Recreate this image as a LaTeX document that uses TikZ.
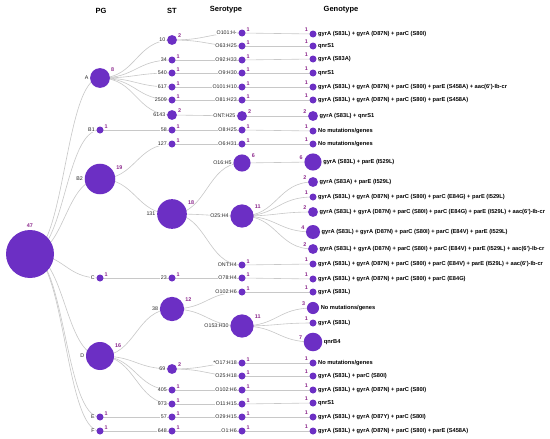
\documentclass[tikz,border=0pt]{standalone}
\usepackage{fontspec}
\setmainfont{Liberation Sans}
\usetikzlibrary{calc}
\pgfdeclarelayer{bg}
\pgfsetlayers{bg,main}
\definecolor{nodepurple}{RGB}{108,47,196}
\definecolor{cntpurple}{RGB}{140,40,140}
\definecolor{edgegray}{RGB}{200,200,200}
\tikzset{
  dot/.style={circle, fill=nodepurple, inner sep=0pt, outer sep=0pt},
  lbl/.style={font=\fontsize{5.3}{6}\selectfont, text=black!85, inner sep=0.4pt, fill=white},
  glbl/.style={font=\fontsize{5.7}{6.5}\selectfont\bfseries, text=black, inner sep=0pt},
  cnt/.style={font=\fontsize{5.4}{6}\selectfont\bfseries, text=cntpurple, inner sep=0pt},
  hdr/.style={font=\fontsize{7.5}{9}\selectfont\bfseries, inner sep=0pt},
  edgeline/.style={draw=edgegray, line width=0.6pt},
}
\newcommand\LeftNode[5]{%
  \pgfmathsetmacro\rr{3.5*sqrt(#4)}%
  \node[dot, minimum size=2*\rr pt] (#1) at (#2,#3) {};
  \node[lbl, anchor=east] (#1-l) at ([xshift=-1.2pt]#1.west) {#5};
  \node[cnt, anchor=west] (#1-c) at ([xshift=1pt, yshift=0.7*\rr pt+1pt]#1.east) {#4};
}
\newcommand\GenNode[4]{%
  \pgfmathsetmacro\rr{3.5*sqrt(#3)}%
  \node[dot, minimum size=2*\rr pt] (#1) at (313,#2) {};
  \node[glbl, anchor=west] (#1-l) at ([xshift=1.5pt]#1.east) {#4};
  \node[cnt, anchor=east] (#1-c) at ([xshift=-1.5pt, yshift=4pt]#1.west) {#3};
}
\newcommand\lnk[2]{\path[edgeline] let \p1=(#1.center), \p2=(#2.center) in (\p1) .. controls ({(\x1+\x2)/2},\y1) and ({(\x1+\x2)/2},\y2) .. (\p2);}
\begin{document}
\begin{tikzpicture}[x=1pt,y=-1pt]
\useasboundingbox (0,0) rectangle (550,439);
% headers
\node[hdr] (hPG) at (101,11) {PG};
\node[hdr] (hST) at (172,11) {ST};
\node[hdr] (hSe) at (226,10) {Serotype};
\node[hdr] (hGe) at (341,10) {Genotype};
% root
\node[dot, minimum size=48pt] (root) at (30,254) {};
\node[cnt, anchor=south] (root-c) at ([yshift=2.5pt]root.north) {47};
% PG
\LeftNode{A}{100}{78}{8}{A}
\LeftNode{B1}{100}{130}{1}{B1}
\LeftNode{B2}{100}{179}{19}{B2}
\LeftNode{C}{100}{278}{1}{C}
\LeftNode{D}{100}{356}{16}{D}
\LeftNode{E}{100}{417}{1}{E}
\LeftNode{F}{100}{431}{1}{F}
% ST
\LeftNode{s10}{172}{40}{2}{10}
\LeftNode{s34}{172}{60}{1}{34}
\LeftNode{s540}{172}{73}{1}{540}
\LeftNode{s617}{172}{87}{1}{617}
\LeftNode{s2509}{172}{100}{1}{2509}
\LeftNode{s6143}{172}{115}{2}{6143}
\LeftNode{s58}{172}{130}{1}{58}
\LeftNode{s127}{172}{144}{1}{127}
\LeftNode{s131}{172}{214}{18}{131}
\LeftNode{s23}{172}{278}{1}{23}
\LeftNode{s38}{172}{309}{12}{38}
\LeftNode{s69}{172}{369}{2}{69}
\LeftNode{s405}{172}{390}{1}{405}
\LeftNode{s973}{172}{404}{1}{973}
\LeftNode{s57}{172}{417}{1}{57}
\LeftNode{s648}{172}{431}{1}{648}
% Serotype
\LeftNode{t1}{242}{33}{1}{O101:H-}
\LeftNode{t2}{242}{46}{1}{O63:H25}
\LeftNode{t3}{242}{60}{1}{O92:H33}
\LeftNode{t4}{242}{73}{1}{O9:H30}
\LeftNode{t5}{242}{87}{1}{O101:H10}
\LeftNode{t6}{242}{100}{1}{O81:H23}
\LeftNode{t7}{242}{116}{2}{ONT:H25}
\LeftNode{t8}{242}{130}{1}{O8:H25}
\LeftNode{t9}{242}{144}{1}{O6:H31}
\LeftNode{t10}{242}{163}{6}{O16:H5}
\LeftNode{t11}{242}{216}{11}{O25:H4}
\LeftNode{t12}{242}{265}{1}{ONT:H4}
\LeftNode{t13}{242}{278}{1}{O78:H4}
\LeftNode{t14}{242}{292}{1}{O102:H6}
\LeftNode{t15}{242}{326}{11}{O153:H30}
\LeftNode{t16}{242}{363}{1}{*O17:H18}
\LeftNode{t17}{242}{376}{1}{O25:H18}
\LeftNode{t18}{242}{390}{1}{O102:H6}
\LeftNode{t19}{242}{404}{1}{O11:H15}
\LeftNode{t20}{242}{417}{1}{O29:H15}
\LeftNode{t21}{242}{431}{1}{O1:H6}
% Genotype
\GenNode{g1}{34}{1}{gyrA (S83L) + gyrA (D87N) + parC (S80I)}
\GenNode{g2}{46}{1}{qnrS1}
\GenNode{g3}{59}{1}{gyrA (S83A)}
\GenNode{g4}{73}{1}{qnrS1}
\GenNode{g5}{87}{1}{gyrA (S83L) + gyrA (D87N) + parC (S80I) + parE (S458A) + aac(6')-Ib-cr}
\GenNode{g6}{100}{1}{gyrA (S83L) + gyrA (D87N) + parC (S80I) + parE (S458A)}
\GenNode{g7}{116}{2}{gyrA (S83L) + qnrS1}
\GenNode{g8}{131}{1}{No mutations/genes}
\GenNode{g9}{144}{1}{No mutations/genes}
\GenNode{g10}{162}{6}{gyrA (S83L) + parE (I529L)}
\GenNode{g11}{182}{2}{gyrA (S83A) + parE (I529L)}
\GenNode{g12}{197}{1}{gyrA (S83L) + gyrA (D87N) + parC (S80I) + parC (E84G) + parE (I529L)}
\GenNode{g13}{212}{2}{gyrA (S83L) + gyrA (D87N) + parC (S80I) + parC (E84G) + parE (I529L) + aac(6')-Ib-cr}
\GenNode{g14}{232}{4}{gyrA (S83L) + gyrA (D87N) + parC (S80I) + parC (E84V) + parE (I529L)}
\GenNode{g15}{249}{2}{gyrA (S83L) + gyrA (D87N) + parC (S80I) + parC (E84V) + parE (I529L) + aac(6')-Ib-cr}
\GenNode{g16}{264}{1}{gyrA (S83L) + gyrA (D87N) + parC (S80I) + parC (E84V) + parE (I529L) + aac(6')-Ib-cr}
\GenNode{g17}{279}{1}{gyrA (S83L) + gyrA (D87N) + parC (S80I) + parC (E84G)}
\GenNode{g18}{292}{1}{gyrA (S83L)}
\GenNode{g19}{308}{3}{No mutations/genes}
\GenNode{g20}{323}{1}{gyrA (S83L)}
\GenNode{g21}{342}{7}{qnrB4}
\GenNode{g22}{363}{1}{No mutations/genes}
\GenNode{g23}{376}{1}{gyrA (S83L) + parC (S80I)}
\GenNode{g24}{390}{1}{gyrA (S83L) + gyrA (D87N) + parC (S80I)}
\GenNode{g25}{403}{1}{qnrS1}
\GenNode{g26}{417}{1}{gyrA (S83L) + gyrA (D87Y) + parC (S80I)}
\GenNode{g27}{431}{1}{gyrA (S83L) + gyrA (D87N) + parC (S80I) + parE (S458A)}
\begin{pgfonlayer}{bg}
\fill[white] (0,0) rectangle (550,439);
\foreach \c in {A,B1,B2,C,D,E,F} {\lnk{root}{\c}}
\foreach \c in {s10,s34,s540,s617,s2509,s6143} {\lnk{A}{\c}}
\lnk{B1}{s58}
\lnk{B2}{s127}\lnk{B2}{s131}
\lnk{C}{s23}
\foreach \c in {s38,s69,s405,s973} {\lnk{D}{\c}}
\lnk{E}{s57}
\lnk{F}{s648}
\lnk{s10}{t1}\lnk{s10}{t2}
\lnk{s34}{t3}\lnk{s540}{t4}\lnk{s617}{t5}\lnk{s2509}{t6}\lnk{s6143}{t7}
\lnk{s58}{t8}\lnk{s127}{t9}
\lnk{s131}{t10}\lnk{s131}{t11}\lnk{s131}{t12}
\lnk{s23}{t13}
\lnk{s38}{t14}\lnk{s38}{t15}
\lnk{s69}{t16}\lnk{s69}{t17}
\lnk{s405}{t18}\lnk{s973}{t19}\lnk{s57}{t20}\lnk{s648}{t21}
\lnk{t1}{g1}\lnk{t2}{g2}\lnk{t3}{g3}\lnk{t4}{g4}\lnk{t5}{g5}\lnk{t6}{g6}
\lnk{t7}{g7}\lnk{t8}{g8}\lnk{t9}{g9}\lnk{t10}{g10}
\foreach \c in {g11,g12,g13,g14,g15} {\lnk{t11}{\c}}
\lnk{t12}{g16}\lnk{t13}{g17}\lnk{t14}{g18}
\foreach \c in {g19,g20,g21} {\lnk{t15}{\c}}
\lnk{t16}{g22}\lnk{t17}{g23}\lnk{t18}{g24}\lnk{t19}{g25}\lnk{t20}{g26}\lnk{t21}{g27}
\end{pgfonlayer}
\end{tikzpicture}
\end{document}
